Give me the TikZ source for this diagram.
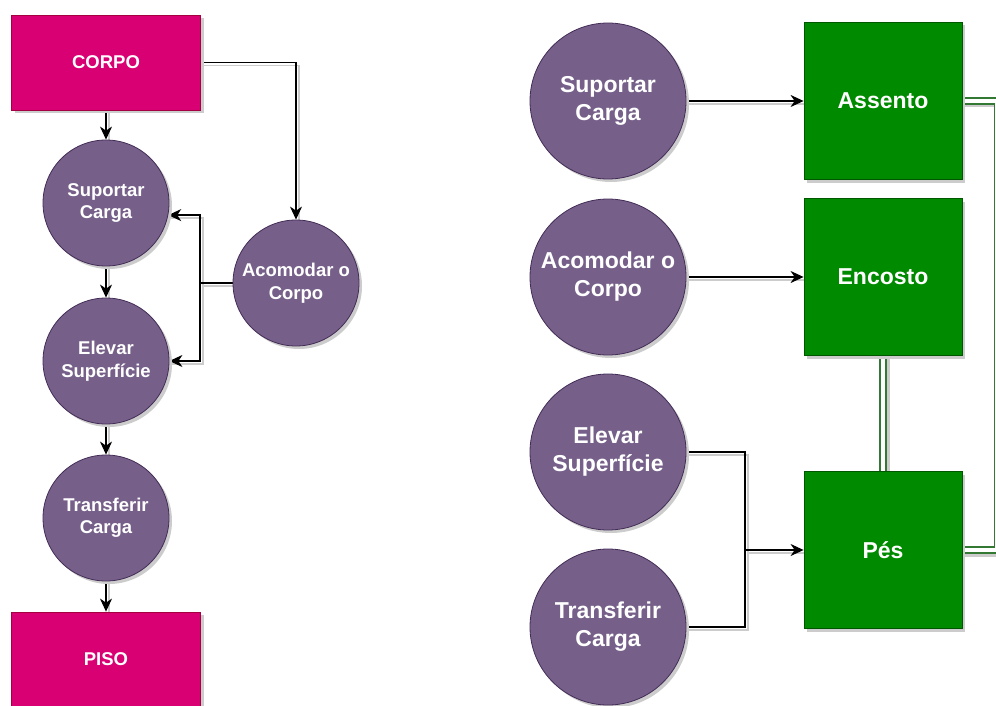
\documentclass[tikz,border=0pt]{standalone}
\usepackage{fontspec}
\setmainfont{Liberation Sans}
\usetikzlibrary{arrows.meta,shadows}
\definecolor{corpofill}{HTML}{D80073}
\definecolor{corpoline}{HTML}{A50040}
\definecolor{funcfill}{HTML}{76608A}
\definecolor{funcline}{HTML}{432D57}
\definecolor{partfill}{HTML}{008A00}
\definecolor{partline}{HTML}{005700}
\definecolor{shade}{HTML}{CCCCCC}
\pgfdeclarelayer{wires}
\pgfsetlayers{wires,main}

\begin{document}
\begin{tikzpicture}[x=1pt,y=-1pt,
  shadowed/.style={drop shadow={shadow xshift=3pt,shadow yshift=-3pt,fill=shade,opacity=1}},
  pinkbox/.style={rectangle,fill=corpofill,draw=corpoline,line width=0.8pt,
    minimum width=189pt,minimum height=95pt,text=white,
    font=\bfseries\fontsize{18.5}{21}\selectfont,shadowed},
  greenbox/.style={rectangle,fill=partfill,draw=partline,line width=0.8pt,
    minimum width=158pt,minimum height=157pt,text=white,
    font=\bfseries\fontsize{23}{26}\selectfont,shadowed},
  funcL/.style={circle,fill=funcfill,draw=funcline,line width=0.8pt,
    minimum size=126pt,inner sep=0pt,align=center,text=white,
    font=\bfseries\fontsize{18.5}{22.5}\selectfont,shadowed},
  funcR/.style={circle,fill=funcfill,draw=funcline,line width=0.8pt,
    minimum size=156pt,inner sep=0pt,align=center,text=white,
    font=\bfseries\fontsize{23}{28}\selectfont,shadowed},
  plainline/.style={draw=black,line width=1.2pt,
    preaction={draw=shade,line width=1.8pt,-,transform canvas={xshift=3pt,yshift=-3pt}}},
  arrowline/.style={plainline,-{Stealth[length=13pt,width=12pt,inset=4pt]}},
  dbl/.style={preaction={draw=shade,line width=7pt,transform canvas={xshift=3pt,yshift=-3pt}},
    draw=partline!80!white,line width=1.4pt,double=white,double distance=4.6pt},
]
\clip (0,0) rectangle (996,706);
\useasboundingbox (0,0) rectangle (996,706);

% left-hand flow
\node[pinkbox] (corpo) at (106,62.5) {CORPO};
\node[funcL] (sl) at (106,203) {Suportar\\Carga};
\node[funcL] (el) at (106,361) {Elevar\\Superfície};
\node[funcL] (tl) at (106,518) {Transferir\\Carga};
\node[pinkbox] (piso) at (106,659.5) {PISO};
\node[funcL] (al) at (296,283) {Acomodar o\\Corpo};
\coordinate (jl) at (200,283);

% right-hand mapping of functions to parts
\node[funcR] (sr) at (608,101) {Suportar\\Carga};
\node[funcR] (ar) at (608,277) {Acomodar o\\Corpo};
\node[funcR] (er) at (608,452) {Elevar\\Superfície};
\node[funcR] (tr) at (608,627) {Transferir\\Carga};
\node[greenbox] (assento) at (883,101) {Assento};
\node[greenbox] (encosto) at (883,277) {Encosto};
\node[greenbox] (pes) at (883,550) {Pés};
\coordinate (jr) at (745,550);

\begin{pgfonlayer}{wires}
  \draw[arrowline] (corpo) -- (sl);
  \draw[arrowline] (sl) -- (el);
  \draw[arrowline] (el) -- (tl);
  \draw[arrowline] (tl) -- (piso);
  \draw[arrowline] (corpo.east) -| (al.north);
  \draw[arrowline] (al.west) -- (jl) |- (sl.-11);
  \draw[arrowline] (al.west) -- (jl) |- (el.east);

  \draw[arrowline] (sr) -- (assento);
  \draw[arrowline] (ar) -- (encosto);
  \draw[plainline] (er.east) -| (jr);
  \draw[plainline] (tr.east) -| (jr);
  \draw[arrowline] (jr) -- (pes.west);
  \draw[dbl] (encosto) -- (pes);
  \draw[dbl] (assento.east) -- ++(35,0) |- (pes.east);
\end{pgfonlayer}
\end{tikzpicture}
\end{document}
